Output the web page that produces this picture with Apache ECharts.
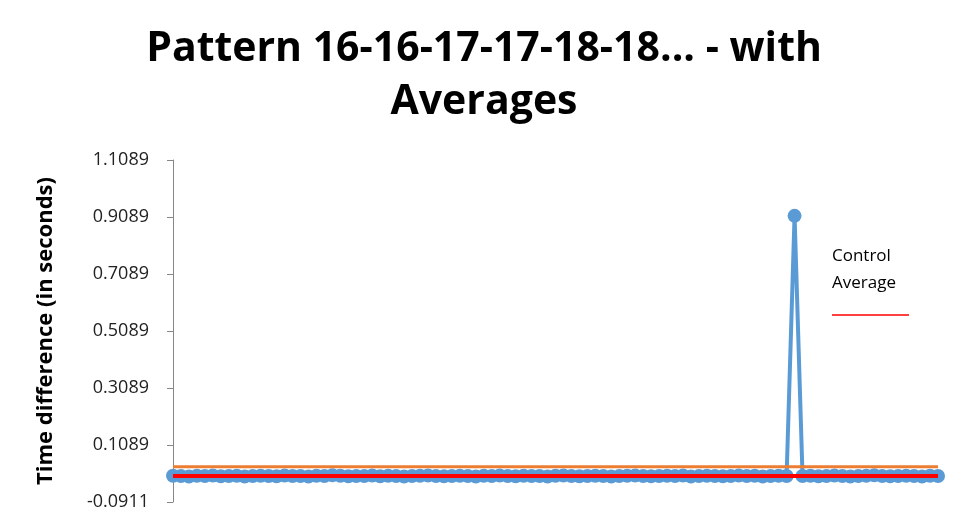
<!DOCTYPE html>
<html>
<head>
<meta charset="utf-8">
<script src="https://cdn.jsdelivr.net/npm/echarts@6/dist/echarts.min.js"></script>
<style>
  html, body { margin: 0; padding: 0; background: #fff; }
  #chart { width: 968px; height: 513px; }
</style>
</head>
<body>
<div id="chart"></div>
<script>
// Trial numbers (1..97)
const trials = Array.from({ length: 97 }, (_, i) => String(i + 1));

// Measured time difference per trial, in seconds
const timeDiff = [
  0.001, 0.000, -0.002, 0.001, 0.000, 0.002, -0.001, 0.000, 0.001, -0.002,
  0.000, 0.001, 0.000, -0.001, 0.002, 0.000, 0.000, -0.002, 0.001, 0.000,
  0.003, 0.001, -0.001, 0.000, 0.000, 0.002, -0.001, 0.001, 0.000, -0.002,
  0.000, 0.001, 0.002, 0.000, -0.001, 0.000, 0.001, 0.000, -0.002, 0.001,
  0.000, 0.002, 0.000, -0.001, 0.001, 0.000, 0.000, -0.002, 0.001, 0.002,
  0.000, -0.001, 0.000, 0.001, 0.000, -0.002, 0.000, 0.001, 0.002, 0.000,
  -0.001, 0.000, 0.001, 0.000, 0.002, -0.002, 0.000, 0.001, 0.000, -0.001,
  0.000, 0.002, 0.000, 0.001, -0.002, 0.000, 0.001, 0.000, 0.913, 0.000,
  0.001, -0.001, 0.000, 0.002, 0.000, -0.002, 0.000, 0.001, 0.003, 0.000,
  -0.001, 0.000, 0.001, 0.000, -0.002, 0.001, 0.000
];

// Average levels drawn as flat reference lines
const testAverage = 0.033;
const controlAverage = 0.0;

// Y axis range and step
const yMin = -0.0911;
const yMax = 1.1089;
const yStep = 0.2;

const testAvgLine = trials.map(() => testAverage);
const controlAvgLine = trials.map(() => controlAverage);

const chart = echarts.init(document.getElementById('chart'), null, { renderer: 'canvas' });

const font = '"Open Sans", Lato, sans-serif';

// Tick labels are counted in whole steps from the axis minimum
const tickLabel = v => (yMin + Math.round((v - yMin) / yStep) * yStep).toFixed(4);

chart.setOption({
  animation: false,
  backgroundColor: '#ffffff',
  title: {
    text: 'Pattern 16-16-17-17-18-18... - with\nAverages',
    left: 'center',
    top: 18,
    textStyle: {
      fontFamily: font,
      fontWeight: 'bold',
      fontSize: 41,
      lineHeight: 53,
      color: '#000000'
    }
  },
  legend: {
    data: ['Control Average'],
    left: 827,
    top: 243,
    icon: 'none',
    itemWidth: 0,
    itemGap: 0,
    padding: 0,
    formatter: () => 'Control\nAverage\n{line|}',
    textStyle: {
      fontFamily: font,
      fontSize: 17,
      lineHeight: 27,
      color: '#000000',
      rich: {
        line: { width: 77, height: 1.5, backgroundColor: '#ff0000', lineHeight: 36 }
      }
    }
  },
  grid: {
    left: 173,
    right: 30,
    top: 160,
    bottom: 11
  },
  xAxis: {
    type: 'category',
    data: trials,
    boundaryGap: false,
    axisLine: { show: true, onZero: true, lineStyle: { color: '#868686' } },
    axisTick: { show: false },
    axisLabel: { show: false },
    splitLine: { show: false }
  },
  yAxis: {
    type: 'value',
    min: yMin,
    max: yMax,
    interval: yStep,
    name: 'Time difference (in seconds)',
    nameLocation: 'middle',
    nameGap: 116,
    nameRotate: 90,
    nameTextStyle: {
      fontFamily: font,
      fontWeight: 'bold',
      fontSize: 22,
      color: '#000000'
    },
    axisLine: { show: true, lineStyle: { color: '#868686', width: 1 } },
    axisTick: { show: true, inside: false, length: 6, lineStyle: { color: '#868686' } },
    axisLabel: {
      fontFamily: font,
      fontSize: 18,
      color: '#222222',
      margin: 24,
      formatter: tickLabel
    },
    splitLine: { show: false }
  },
  series: [
    {
      name: 'Time difference',
      type: 'line',
      data: timeDiff,
      symbol: 'circle',
      symbolSize: 14,
      showSymbol: true,
      showAllSymbol: true,
      itemStyle: { color: '#5b9bd5' },
      lineStyle: { color: '#5b9bd5', width: 4 },
      z: 2
    },
    {
      name: 'Test Average',
      type: 'line',
      data: testAvgLine,
      symbol: 'none',
      lineStyle: { color: '#ed7d31', width: 3 },
      z: 3
    },
    {
      name: 'Control Average',
      type: 'line',
      data: controlAvgLine,
      symbol: 'none',
      itemStyle: { color: '#ff0000' },
      lineStyle: { color: '#ff0000', width: 4 },
      z: 4
    }
  ]
});
</script>
</body>
</html>
